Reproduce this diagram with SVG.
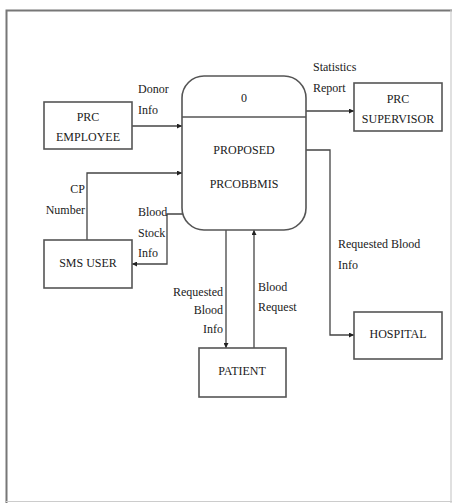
<svg xmlns="http://www.w3.org/2000/svg" width="452" height="503" viewBox="0 0 452 503" font-family="'Liberation Serif', 'DejaVu Serif', serif">
<style>
.box{fill:#fff;stroke:#555;stroke-width:1.6}
.ln{fill:none;stroke:#444;stroke-width:1.3}
text{font-family:"Liberation Serif","DejaVu Serif",serif;font-size:12px;fill:#1a1a1a}
.c{text-anchor:middle}
.r{text-anchor:end}
</style>
<defs>
<marker id="ah" viewBox="0 0 10 10" refX="10" refY="5" markerWidth="5" markerHeight="5" orient="auto" markerUnits="userSpaceOnUse">
<path d="M0,0 L10,5 L0,10 z" fill="#222"/>
</marker>
</defs>
<rect x="0" y="0" width="452" height="503" fill="#fff"/>
<path d="M6.5,503 V10.5 H452" fill="none" stroke="#777" stroke-width="2"/>
<path d="M6,501.5 H452 M451,10 V503" fill="none" stroke="#ccc" stroke-width="1.2"/>

<g id="connectors">
<path class="ln" d="M132,126 H182" marker-end="url(#ah)"/>
<path class="ln" d="M306,111 H354" marker-end="url(#ah)"/>
<path class="ln" d="M306,150 H330 V335 H354" marker-end="url(#ah)"/>
<path class="ln" d="M87,240 V173 H182" marker-end="url(#ah)"/>
<path class="ln" d="M183,214 H167 V264 H132" marker-end="url(#ah)"/>
<path class="ln" d="M226,230 V348" marker-end="url(#ah)"/>
<path class="ln" d="M254,348 V230" marker-end="url(#ah)"/>
<text x="138" y="93">Donor</text>
<text x="138" y="114">Info</text>
<text x="313" y="71">Statistics</text>
<text x="313" y="92">Report</text>
<text x="338" y="248">Requested Blood</text>
<text x="338" y="269">Info</text>
<text class="r" x="85" y="193">CP</text>
<text class="r" x="85" y="214">Number</text>
<text x="138" y="216">Blood</text>
<text x="138" y="237">Stock</text>
<text x="138" y="257">Info</text>
<text class="r" x="223" y="296">Requested</text>
<text class="r" x="223" y="314">Blood</text>
<text class="r" x="223" y="333">Info</text>
<text x="258" y="291">Blood</text>
<text x="258" y="311">Request</text>
</g>

<g id="process">
<rect class="box" x="182" y="76" width="124" height="154" rx="22" ry="22"/>
<line x1="182" y1="117" x2="306" y2="117" stroke="#555" stroke-width="1.6"/>
<text class="c" x="244" y="102">0</text>
<text class="c" x="244" y="154">PROPOSED</text>
<text class="c" x="244" y="188">PRCOBBMIS</text>
</g>

<g id="prc-employee">
<rect class="box" x="44" y="102" width="88" height="47"/>
<text class="c" x="88" y="121">PRC</text>
<text class="c" x="88" y="141">EMPLOYEE</text>
</g>

<g id="prc-supervisor">
<rect class="box" x="354" y="83" width="88" height="48"/>
<text class="c" x="398" y="103">PRC</text>
<text class="c" x="398" y="123">SUPERVISOR</text>
</g>

<g id="sms-user">
<rect class="box" x="44" y="240" width="88" height="48"/>
<text class="c" x="88" y="267">SMS USER</text>
</g>

<g id="hospital">
<rect class="box" x="354" y="312" width="88" height="47"/>
<text class="c" x="398" y="338">HOSPITAL</text>
</g>

<g id="patient">
<rect class="box" x="199" y="348" width="87" height="49"/>
<text class="c" x="242" y="375">PATIENT</text>
</g>
</svg>
